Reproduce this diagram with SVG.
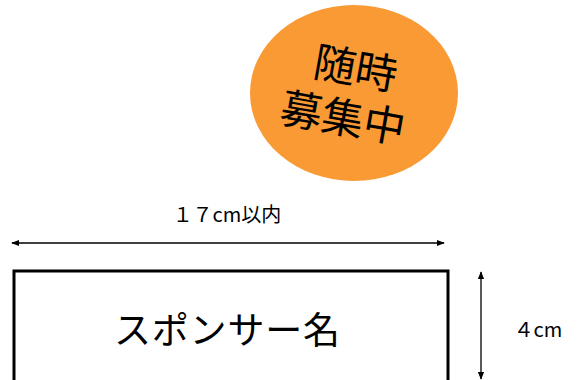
<svg xmlns="http://www.w3.org/2000/svg" width="577" height="380" viewBox="0 0 577 380">
<defs>
<style>
text{font-family:"Noto Sans CJK JP","Noto Sans",sans-serif;fill:#000}
.ln{stroke:#000;stroke-width:1.3;fill:none}
</style>
<marker id="ah" viewBox="0 0 10 10" refX="9" refY="5" markerWidth="8" markerHeight="8" markerUnits="userSpaceOnUse" orient="auto-start-reverse"><path d="M0,1 L10,5 L0,9 Z" fill="#000"/></marker>
</defs>
<g id="badge">
<ellipse cx="354" cy="93" rx="104" ry="88" fill="#F99A35"/>
<g transform="rotate(10 350 95)">
<text x="351" y="83" font-size="42" text-anchor="middle">随時</text>
<text x="347" y="134" font-size="42" text-anchor="middle">募集中</text>
</g>
</g>
<g id="sponsor">
<rect x="14" y="271" width="434" height="130" fill="#fff" stroke="#000" stroke-width="3"/>
<text x="227" y="344" font-size="37" text-anchor="middle" textLength="226">スポンサー名</text>
</g>
<g id="labels">
<text x="227" y="222" font-size="20" text-anchor="middle">１７cm以内</text>
<text x="538" y="337" font-size="20" text-anchor="middle">４cm</text>
</g>
<g id="connectors">
<line class="ln" x1="12" y1="243" x2="444" y2="243" marker-start="url(#ah)" marker-end="url(#ah)"/>
<line class="ln" x1="481" y1="272" x2="481" y2="379" marker-start="url(#ah)" marker-end="url(#ah)"/>
</g>
</svg>
